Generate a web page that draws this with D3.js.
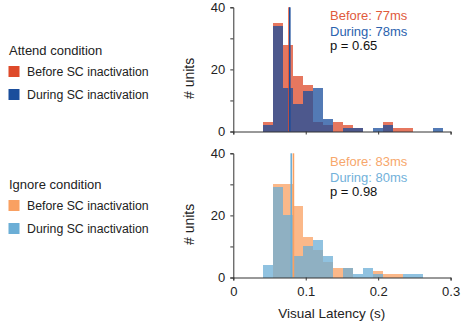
<!DOCTYPE html>
<html>
<head>
<meta charset="utf-8">
<script src="https://cdn.jsdelivr.net/npm/d3@7"></script>
<style>
  body { margin: 0; background: #fff; }
  svg { font-family: "Liberation Sans", Arial, sans-serif; }
</style>
</head>
<body>
<div id="canvas"></div>
<script>
// histogram bin edges (s)
const binEdges = [0.0415, 0.0553, 0.0691, 0.0829, 0.0967, 0.1105, 0.1243, 0.1381, 0.1519,
  0.1657, 0.1795, 0.1933, 0.2071, 0.2209, 0.2347, 0.2485, 0.2623, 0.2761, 0.2899];

// attend condition counts per bin
const attendBefore = [3, 35, 28, 18, 15, 3, 2, 3, 2, 1, 0, 0, 3, 1, 1, 0, 0, 0];
const attendDuring = [2, 34, 14, 9, 13, 14, 4, 0, 1, 1, 0, 1, 2, 0, 0, 0, 0, 1];

// ignore condition counts per bin
const ignoreBefore = [0, 30, 30, 23, 13, 9, 5, 3, 3, 0, 0, 2, 1, 1, 0, 0, 0, 0];
const ignoreDuring = [4, 29, 20, 7, 10, 12, 7, 0, 3, 1, 3, 1, 0, 0, 1, 1, 0, 0];

// mean latencies (s)
const attendMeans = [0.077, 0.078];
const ignoreMeans = [0.083, 0.080];
const pValues = ["0.65", "0.98"];

const xTicks = [0, 0.1, 0.2, 0.3];
const yTicks = [0, 10, 20, 30, 40];
const yLabels = [0, 20, 40];

const width = 461;
const height = 324;

const svg = d3.select("#canvas").append("svg")
  .attr("width", width)
  .attr("height", height);

const x = d3.scaleLinear().domain([0, 0.3]).range([233.3, 450.6]);

const panels = [
  {
    title: "Attend condition",
    before: attendBefore, during: attendDuring, means: attendMeans, p: pValues[0],
    colBefore: "#de4a2a", colDuring: "#1a4e9c",
    textBefore: "#e05a3c", textDuring: "#2b62ae",
    top: 7.3, bottom: 131.5, legendY: 55, showX: false
  },
  {
    title: "Ignore condition",
    before: ignoreBefore, during: ignoreDuring, means: ignoreMeans, p: pValues[1],
    colBefore: "#f9a061", colDuring: "#6baed6",
    textBefore: "#f7a76c", textDuring: "#72b1da",
    top: 153.3, bottom: 277.5, legendY: 189, showX: true
  }
];

panels.forEach(p => {
  const y = d3.scaleLinear().domain([0, 40]).range([p.bottom, p.top]);
  const g = svg.append("g");

  const bins = binEdges.slice(0, -1).map((e, i) => ({ x0: e, x1: binEdges[i + 1], i: i }));

  // before bars, then during on top
  [[p.before, p.colBefore], [p.during, p.colDuring]].forEach(([vals, col]) => {
    g.append("g").selectAll("rect")
      .data(bins.filter(b => vals[b.i] > 0))
      .enter()
      .append("rect")
      .attr("x", b => x(b.x0))
      .attr("width", b => x(b.x1) - x(b.x0))
      .attr("y", b => y(vals[b.i]))
      .attr("height", b => y(0) - y(vals[b.i]))
      .attr("fill", col)
      .attr("fill-opacity", 0.75)
      .attr("shape-rendering", "crispEdges");
  });

  // mean lines
  [[p.means[0], p.colBefore], [p.means[1], p.colDuring]].forEach(([m, col]) => {
    g.append("line")
      .attr("x1", x(m)).attr("x2", x(m))
      .attr("y1", y(40)).attr("y2", y(0))
      .attr("stroke", col)
      .attr("stroke-width", 1.6);
  });

  // axes
  const yAxis = g.append("g")
    .attr("transform", `translate(${x(0)},0)`)
    .call(d3.axisLeft(y).tickValues(yTicks).tickSize(3)
      .tickFormat(d => yLabels.includes(d) ? d : ""));
  const xAxis = g.append("g")
    .attr("transform", `translate(0,${y(0)})`)
    .call(d3.axisBottom(x).tickValues(xTicks).tickSize(3)
      .tickFormat(d => p.showX ? (d === 0 ? "0" : d3.format(".1f")(d)) : ""));

  [yAxis, xAxis].forEach(a => {
    a.select(".domain").attr("stroke", "#333").attr("stroke-width", 1);
    a.selectAll(".tick line").attr("stroke", "#333");
    a.selectAll("text").attr("fill", "#222").style("font-size", "13px")
      .style("font-family", "'Liberation Sans', Arial, sans-serif");
  });
  yAxis.selectAll("text").attr("x", -8);
  xAxis.selectAll("text").attr("y", 9);

  g.append("text")
    .attr("transform", `translate(193.5,${(p.top + p.bottom) / 2 + 9}) rotate(-90)`)
    .attr("text-anchor", "middle")
    .attr("font-size", 14)
    .attr("fill", "#222")
    .text("# units");

  // stats text
  const tx = 330;
  g.append("text").attr("x", tx).attr("y", p.top + 12.7).attr("font-size", 13)
    .attr("fill", p.textBefore)
    .text(`Before: ${Math.round(p.means[0] * 1000)}ms`);
  g.append("text").attr("x", tx).attr("y", p.top + 29).attr("font-size", 13)
    .attr("fill", p.textDuring)
    .text(`During: ${Math.round(p.means[1] * 1000)}ms`);
  g.append("text").attr("x", tx).attr("y", p.top + 42.5).attr("font-size", 13)
    .attr("fill", "#111")
    .text(`p = ${p.p}`);

  // legend
  const lg = svg.append("g");
  lg.append("text").attr("x", 9).attr("y", p.legendY).attr("font-size", 13)
    .attr("fill", "#222").text(p.title);
  [["Before SC inactivation", p.colBefore], ["During SC inactivation", p.colDuring]].forEach(([lab, col], i) => {
    const yy = p.legendY + 21 + i * 23;
    lg.append("rect").attr("x", 8.5).attr("y", yy - 10).attr("width", 11).attr("height", 11)
      .attr("fill", col);
    lg.append("text").attr("x", 27).attr("y", yy).attr("font-size", 12.3)
      .attr("fill", "#222").text(lab);
  });
});

svg.append("text")
  .attr("x", x(0.136))
  .attr("y", 318)
  .attr("text-anchor", "middle")
  .attr("font-size", 13.5)
  .attr("fill", "#222")
  .text("Visual Latency (s)");
</script>
</body>
</html>
